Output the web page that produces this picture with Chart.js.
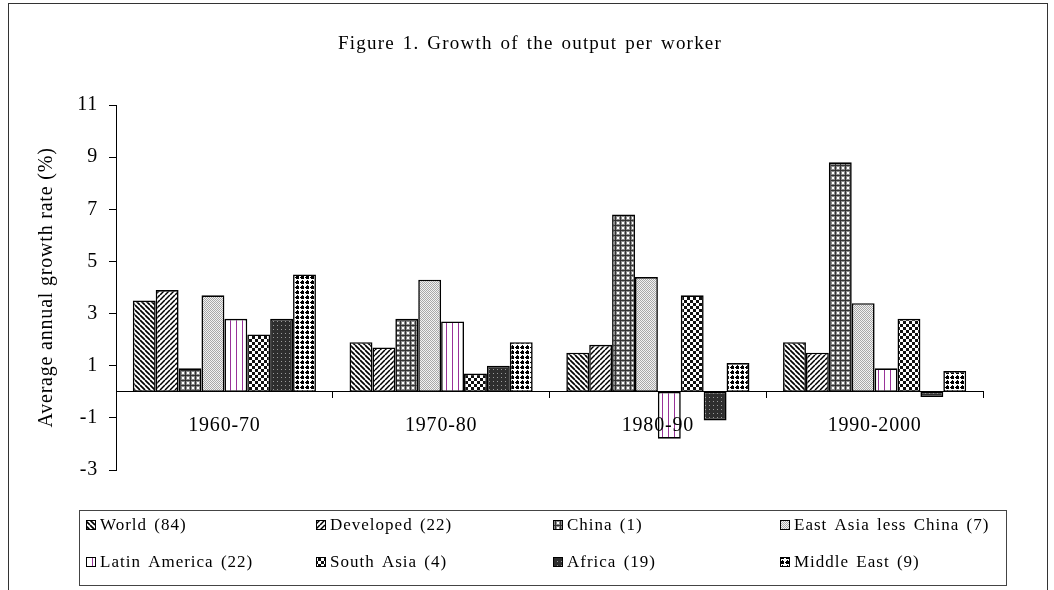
<!DOCTYPE html>
<html>
<head>
<meta charset="utf-8">
<title>Figure 1. Growth of the output per worker</title>
<script src="https://cdn.jsdelivr.net/npm/chart.js@4.4.1/dist/chart.umd.min.js"></script>
<style>
  html, body { margin: 0; padding: 0; background: #fff; }
  #grafico { display: block; }
</style>
</head>
<body>
<canvas id="grafico" width="1054" height="590"></canvas>
<script>
const categorias = ["1960-70", "1970-80", "1980-90", "1990-2000"];
const yTicks = [-3, -1, 1, 3, 5, 7, 9, 11];

const world = [3.5, 1.9, 1.5, 1.9];
const developed = [3.9, 1.7, 1.8, 1.5];
const china = [0.9, 2.8, 6.8, 8.8];
const eastAsia = [3.7, 4.3, 4.4, 3.4];
const latinAmerica = [2.8, 2.7, -1.8, 0.9];
const southAsia = [2.2, 0.7, 3.7, 2.8];
const africa = [2.8, 1.0, -1.1, -0.2];
const middleEast = [4.5, 1.9, 1.1, 0.8];

const nombres = ["World (84)", "Developed (22)", "China (1)", "East Asia less China (7)",
  "Latin America (22)", "South Asia (4)", "Africa (19)", "Middle East (9)"];

const FONT = '"Liberation Serif", "Times New Roman", serif';

// fill patterns, built on small tiles
function patron(size, draw) {
  const c = document.createElement("canvas");
  c.width = size; c.height = size;
  const g = c.getContext("2d");
  draw(g, size);
  return g.createPattern(c, "repeat");
}

const patrones = [
  patron(5, (g, s) => {
    g.fillStyle = "#fff"; g.fillRect(0, 0, s, s);
    g.strokeStyle = "#000"; g.lineWidth = 1.7;
    for (const k of [-s, 0, s]) { g.beginPath(); g.moveTo(k, 0); g.lineTo(k + s, s); g.stroke(); }
  }),
  patron(5, (g, s) => {
    g.fillStyle = "#fff"; g.fillRect(0, 0, s, s);
    g.strokeStyle = "#000"; g.lineWidth = 1.5;
    for (const k of [-s, 0, s]) { g.beginPath(); g.moveTo(k, s); g.lineTo(k + s, 0); g.stroke(); }
  }),
  patron(5, (g, s) => {
    g.fillStyle = "#8c8c8c"; g.fillRect(0, 0, s, s);
    g.fillStyle = "#333"; g.fillRect(0, 0, s, 1); g.fillRect(0, 0, 1, s);
    g.fillStyle = "#fff"; g.fillRect(2, 2, 2, 2);
  }),
  patron(2, (g, s) => {
    g.fillStyle = "#f2f2f2"; g.fillRect(0, 0, s, s);
    g.fillStyle = "#a8a8a8"; g.fillRect(0, 0, 1, 1); g.fillRect(1, 1, 1, 1);
  }),
  patron(6, (g, s) => {
    g.fillStyle = "#fff"; g.fillRect(0, 0, s, s);
    g.fillStyle = "#993399"; g.fillRect(2, 0, 1, s);
  }),
  patron(6, (g, s) => {
    g.fillStyle = "#fff"; g.fillRect(0, 0, s, s);
    g.fillStyle = "#111"; g.fillRect(0, 0, 3, 3); g.fillRect(3, 3, 3, 3);
  }),
  patron(4, (g, s) => {
    g.fillStyle = "#2e2e2e"; g.fillRect(0, 0, s, s);
    g.fillStyle = "#9a9a9a"; g.fillRect(1, 1, 1, 1);
  }),
  patron(5, (g, s) => {
    g.fillStyle = "#fff"; g.fillRect(0, 0, s, s);
    g.fillStyle = "#000"; g.fillRect(1, 1, 3, 3);
    g.fillRect(2, 0, 1, 1); g.fillRect(0, 2, 1, 1);
  })
];

const series = [world, developed, china, eastAsia, latinAmerica, southAsia, africa, middleEast];

const datasets = series.map((valores, i) => ({
  label: nombres[i],
  data: valores,
  backgroundColor: patrones[i],
  borderColor: "#000",
  borderWidth: 1.6,
  borderSkipped: false
}));

// title, outer frame and the boxed legend
const extras = {
  id: "extras",
  beforeDraw(chart) {
    chart.ctx.letterSpacing = "0.8px";
  },
  afterDraw(chart) {
    const ctx = chart.ctx;
    ctx.save();
    ctx.strokeStyle = "#333";
    ctx.lineWidth = 1;
    ctx.strokeRect(8.5, 3.5, 1039, 640);

    ctx.fillStyle = "#000";
    ctx.font = "19px " + FONT;
    ctx.letterSpacing = "1.2px";
    ctx.wordSpacing = "2px";
    ctx.textAlign = "center";
    ctx.textBaseline = "middle";
    ctx.fillText("Figure 1. Growth of the output per worker", 530, 44);

    ctx.strokeStyle = "#444";
    ctx.strokeRect(79.5, 510.5, 927, 75);

    const cols = [86, 316, 553, 780];
    const rows = [525, 562];
    ctx.font = "17px " + FONT;
    ctx.letterSpacing = "1px";
    ctx.wordSpacing = "2px";
    ctx.textAlign = "left";
    chart.data.datasets.forEach((ds, i) => {
      const x = cols[i % 4];
      const y = rows[Math.floor(i / 4)];
      ctx.fillStyle = ds.backgroundColor;
      ctx.fillRect(x, y - 5, 10, 10);
      ctx.strokeStyle = "#000";
      ctx.strokeRect(x + 0.5, y - 4.5, 9, 9);
      ctx.fillStyle = "#000";
      ctx.fillText(ds.label, x + 14, y + 1);
    });
    ctx.restore();
  }
};

const ctx = document.getElementById("grafico").getContext("2d");
ctx.letterSpacing = "0.8px";

new Chart(ctx, {
  type: "bar",
  data: { labels: categorias, datasets },
  options: {
    responsive: false,
    animation: false,
    devicePixelRatio: 1,
    categoryPercentage: 0.845,
    barPercentage: 1,
    layout: { padding: { top: 105, bottom: 120, left: 0, right: 71 } },
    plugins: {
      legend: { display: false },
      title: { display: false },
      tooltip: { enabled: false }
    },
    scales: {
      x: {
        position: { y: 0 },
        grid: { offset: true, drawOnChartArea: false, drawTicks: true, tickLength: 6, color: "#000" },
        border: { display: true, color: "#000", width: 1, z: 1 },
        ticks: { color: "#000", font: { family: FONT, size: 20 }, padding: 16, z: 1 }
      },
      y: {
        min: -3,
        max: 11,
        afterBuildTicks: s => { s.ticks = yTicks.map(v => ({ value: v })); },
        afterFit: s => { s.width = 116; },
        grid: { drawOnChartArea: false, drawTicks: true, tickLength: 7, color: "#000" },
        border: { display: true, color: "#000", width: 1 },
        ticks: { color: "#000", font: { family: FONT, size: 20 }, padding: 11 },
        title: {
          display: true,
          text: "Average annual growth rate (%)",
          color: "#000",
          font: { family: FONT, size: 20 },
          padding: { top: 35, bottom: 0 }
        }
      }
    }
  },
  plugins: [extras]
});
</script>
</body>
</html>
